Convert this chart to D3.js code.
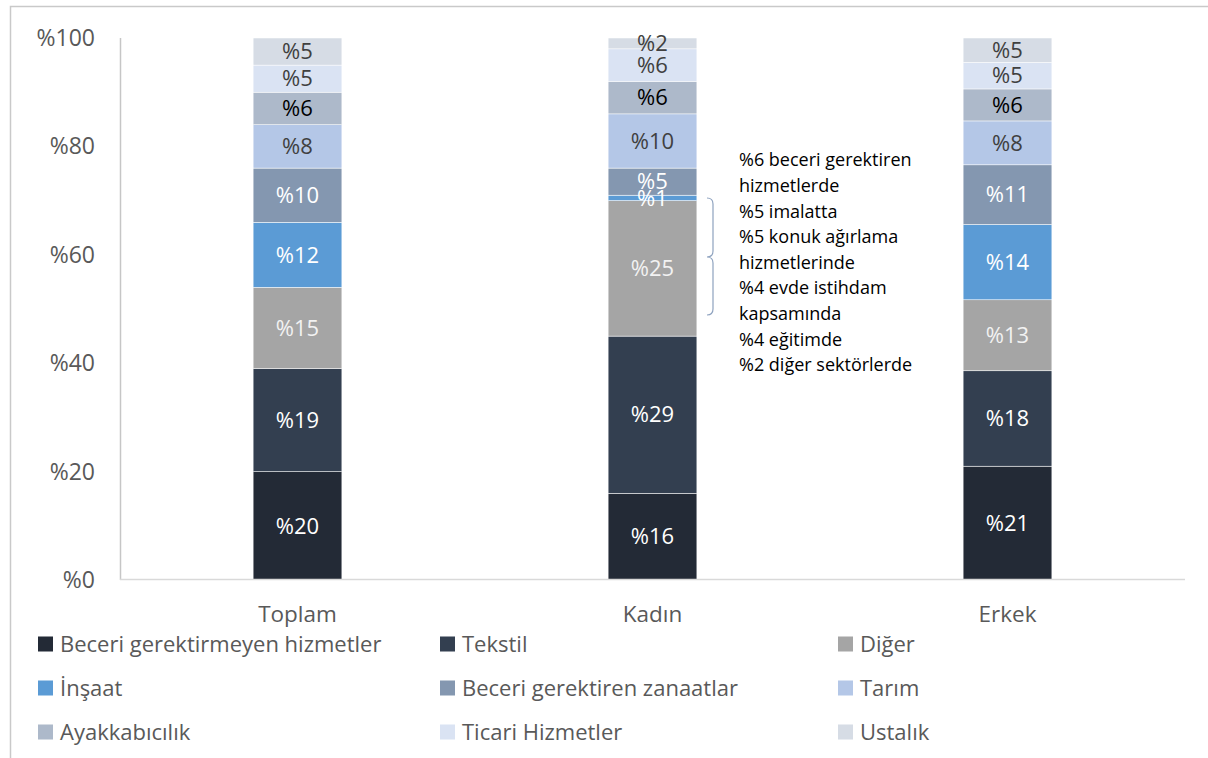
<!DOCTYPE html>
<html>
<head>
<meta charset="utf-8" />
<title>Sektörlere göre dağılım</title>
<script src="https://d3js.org/d3.v7.min.js"></script>
<style>
  body { margin: 0; background: white; }
  text { font-family: "Open Sans", "Noto Sans", sans-serif; }
</style>
</head>
<body>
<svg id="viz"></svg>
<script>

// categories and series (bottom to top)
var groups = ["Toplam", "Kadın", "Erkek"];
var sectors = ["Beceri gerektirmeyen hizmetler", "Tekstil", "Diğer",
  "İnşaat", "Beceri gerektiren zanaatlar", "Tarım",
  "Ayakkabıcılık", "Ticari Hizmetler", "Ustalık"];
var colors = ["#232a36", "#333f50", "#a5a5a5", "#5b9bd5", "#8497b0",
  "#b4c7e7", "#adb9ca", "#dae3f3", "#d6dce5"];
var labelColors = ["#fff", "#fff", "#f2f2f2", "#fff", "#fff",
  "#404040", "#000", "#404040", "#404040"];

// share of each sector, one array per group
var toplam = [20, 19, 15, 12, 10, 8, 6, 5, 5];
var kadin  = [16, 29, 25, 1, 5, 10, 6, 6, 2];
var erkek  = [21, 17.6, 13.1, 13.9, 11, 8.1, 5.9, 4.9, 4.5];

var yTicks = [0, 20, 40, 60, 80, 100];

var note = ["%6 beceri gerektiren", "hizmetlerde", "%5 imalatta",
  "%5 konuk ağırlama", "hizmetlerinde", "%4 evde istihdam",
  "kapsamında", "%4 eğitimde", "%2 diğer sektörlerde"];

var width = 1208, height = 758;
var svg = d3.select("#viz").attr("width", width).attr("height", height);

// outer frame
svg.append("path")
  .attr("d", "M10.5," + height + "V6.5H" + width)
  .attr("fill", "none").attr("stroke", "#c9c9c9").attr("stroke-width", 1.5);

var x = d3.scaleBand().domain(groups).range([120, 1185]).paddingInner(0.75).paddingOuter(0.375);
var y = d3.scaleLinear().domain([0, 100]).range([580, 38]);

// build table for stack
var values = [toplam, kadin, erkek];
var table = groups.map(function(g, i) {
  var row = { group: g };
  sectors.forEach(function(s, j) { row[s] = values[i][j]; });
  return row;
});
var series = d3.stack().keys(sectors)(table);

// y axis
svg.append("line").attr("x1", 120.5).attr("x2", 120.5)
  .attr("y1", y(100)).attr("y2", y(0))
  .attr("stroke", "#c6c6c6").attr("stroke-width", 1.5);

svg.selectAll(".ytick").data(yTicks).enter().append("text")
  .attr("x", 95).attr("y", function(d) { return y(d); })
  .attr("dy", "0.35em").attr("text-anchor", "end")
  .attr("font-size", 23).attr("fill", "#595959")
  .text(function(d) { return "%" + d; });

// bars
var layers = svg.selectAll(".layer").data(series).enter().append("g")
  .attr("fill", function(d, i) { return colors[i]; });

layers.selectAll("rect").data(function(d) { return d; }).enter().append("rect")
  .attr("x", function(d) { return x(d.data.group); })
  .attr("width", x.bandwidth())
  .attr("y", function(d) { return y(d[1]); })
  .attr("height", function(d) { return y(d[0]) - y(d[1]); })
  .attr("stroke", "white").attr("stroke-width", 0.5);

// baseline
svg.append("line").attr("x1", 120).attr("x2", 1185)
  .attr("y1", 579.5).attr("y2", 579.5)
  .attr("stroke", "#d9d9d9").attr("stroke-width", 1.5);

// value labels
series.forEach(function(s, i) {
  svg.selectAll(".lab" + i).data(s).enter().append("text")
    .attr("x", function(d) { return x(d.data.group) + x.bandwidth() / 2; })
    .attr("y", function(d) { return (y(d[0]) + y(d[1])) / 2; })
    .attr("dy", "0.35em").attr("text-anchor", "middle")
    .attr("font-size", 22).attr("fill", labelColors[i])
    .text(function(d) { return "%" + Math.round(d[1] - d[0]); });
});

// category labels
svg.selectAll(".cat").data(groups).enter().append("text")
  .attr("x", function(d) { return x(d) + x.bandwidth() / 2; })
  .attr("y", 614).attr("dy", "0.35em").attr("text-anchor", "middle")
  .attr("font-size", 22.5).attr("fill", "#595959")
  .text(function(d) { return d; });

// note with bracket
svg.append("path")
  .attr("d", "M707,198Q713,198 713,204V251Q713,257 707,257Q713,257 713,263V309Q713,315 707,315")
  .attr("fill", "none").attr("stroke", "#8ea2bf").attr("stroke-width", 1.2);

svg.selectAll(".note").data(note).enter().append("text")
  .attr("x", 739).attr("y", function(d, i) { return 160 + i * 25.6; })
  .attr("dy", "0.35em").attr("font-size", 18).attr("fill", "#000")
  .text(function(d) { return d; });

// legend
var legend = svg.selectAll(".leg").data(sectors).enter().append("g")
  .attr("transform", function(d, i) {
    var colX = [38, 440, 838][i % 3];
    var rowY = 644 + Math.floor(i / 3) * 44;
    return "translate(" + colX + "," + rowY + ")";
  });
legend.append("rect").attr("x", 0).attr("y", -7.5).attr("width", 15).attr("height", 15)
  .attr("fill", function(d, i) { return colors[i]; });
legend.append("text").attr("x", 22).attr("dy", "0.35em")
  .attr("font-size", 22).attr("fill", "#595959")
  .text(function(d) { return d; });

</script>
</body>
</html>
